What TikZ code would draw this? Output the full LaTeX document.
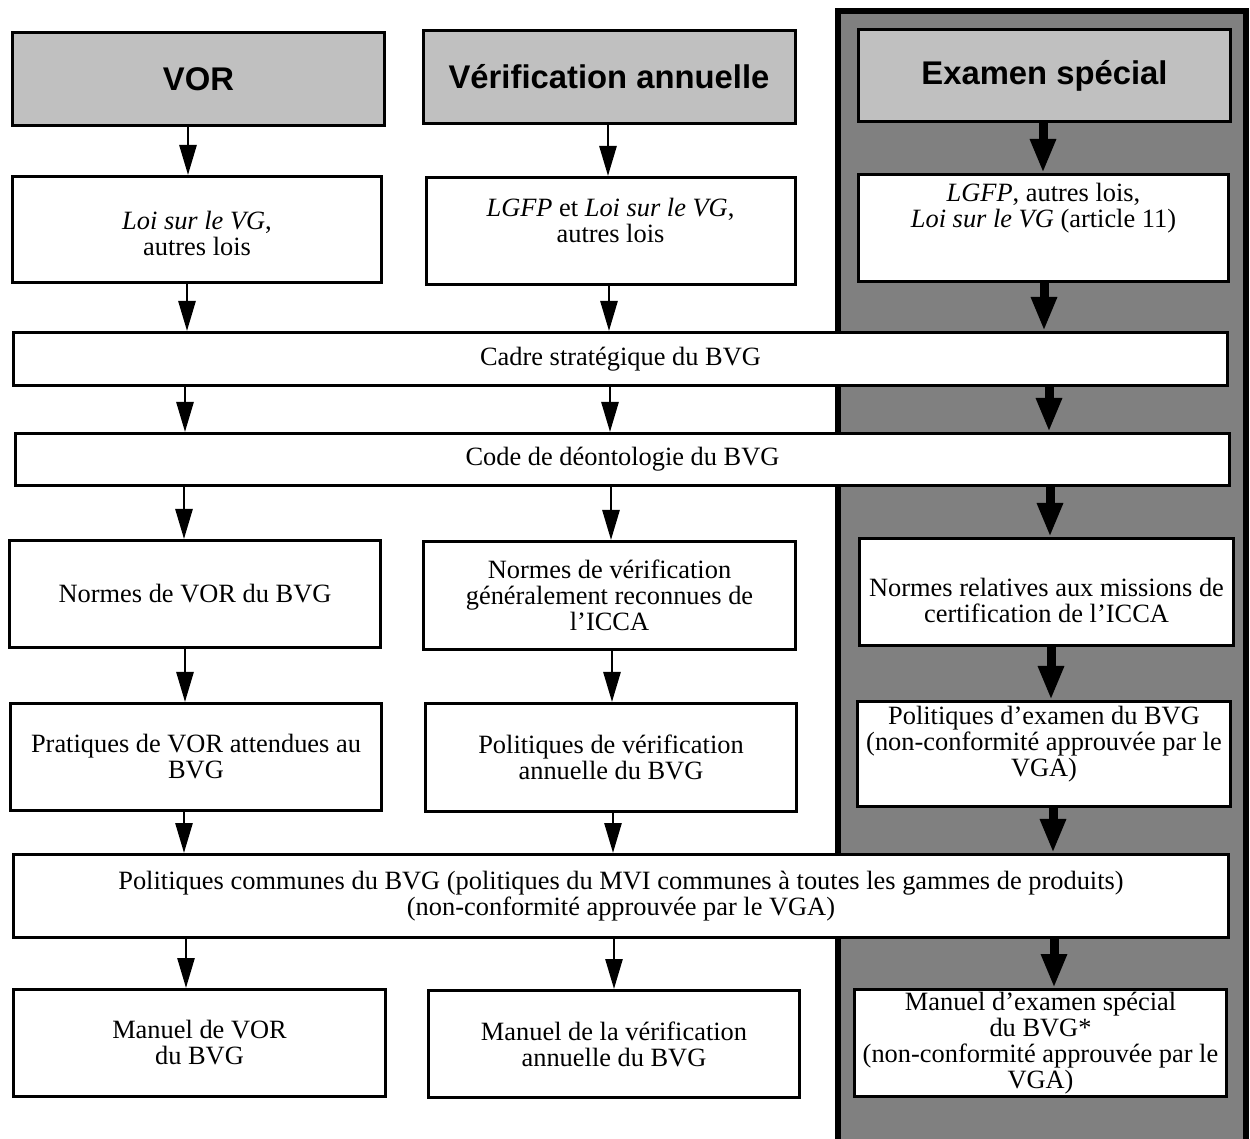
\documentclass[tikz,border=0pt]{standalone}
\usepackage{fontspec}
\setmainfont{Liberation Serif}
\newfontfamily\hdrfont{Liberation Sans}
\usetikzlibrary{arrows.meta}
\definecolor{hdrgray}{HTML}{C0C0C0}
\definecolor{panelgray}{HTML}{808080}
\begin{document}
\begin{tikzpicture}[x=0.5pt,y=-0.5pt,
  box/.style={draw, line width=1.5pt, fill=white, inner xsep=1pt, inner ysep=1pt, align=center,
    font=\fontsize{13.2}{13}\selectfont},
  hdr/.style={draw, line width=1.5pt, fill=hdrgray, inner sep=1.5pt,
    font=\hdrfont\bfseries\fontsize{16.4}{19}\selectfont},
  arrl/.style={line width=1.35pt, -{Triangle[length=15pt,width=8.5pt]}},
  arrr/.style={line width=4.5pt, -{Triangle[length=17pt,width=12pt]}}
]
\useasboundingbox (0,0) rectangle (1250,1139);
% right panel
\fill[panelgray] (838,11.5) rectangle (1246,1139);
\draw[line width=3pt] (838,1150) -- (838,11.5) -- (1246,11.5) -- (1246,1150);

% headers
\node[hdr, minimum width=186pt, minimum height=46.5pt] (h1) at (198.5,79) {VOR};
\node[hdr, minimum width=186pt, minimum height=46.5pt] (h2) at (609,77) {Vérification annuelle};
\node[hdr, minimum width=186pt, minimum height=46pt] (h3) at (1044.5,75.5) {Examen spécial};

% laws
\node[box, minimum width=184.5pt, minimum height=53pt] (law1) at (197,229.5)
  {\mbox{}\\[0.5pt]\textit{Loi sur le VG},\\ autres lois};
\node[box, minimum width=184.5pt, minimum height=53.5pt] (law2) at (610.5,231)
  {\textit{LGFP} et \textit{Loi sur le VG},\\ autres lois\\[-2pt]\mbox{}};
\node[box, minimum width=185pt, minimum height=53.5pt] (law3) at (1043.5,228)
  {\textit{LGFP}, autres lois,\\ \textit{Loi sur le VG} (article 11)\\[10pt]\mbox{}};

% wide boxes
\node[box, minimum width=607pt, minimum height=26.5pt] (cadre) at (620.5,359)
  {Cadre stratégique du BVG};
\node[box, minimum width=607pt, minimum height=26pt] (code) at (622.5,459.5)
  {Code de déontologie du BVG};

% standards
\node[box, minimum width=185.5pt, minimum height=53.5pt] (nor1) at (195,594)
  {Normes de VOR du BVG};
\node[box, minimum width=186pt, minimum height=54pt] (nor2) at (609.5,595.5)
  {Normes de vérification\\ généralement reconnues de\\ l’ICCA};
\node[box, minimum width=187pt, minimum height=53.5pt] (nor3) at (1046.5,592)
  {\mbox{}\\[4.5pt]Normes relatives aux missions de\\ certification de l’ICCA};

% policies
\node[box, minimum width=185.5pt, minimum height=53.5pt] (pol1) at (196,757)
  {Pratiques de VOR attendues au\\ BVG};
\node[box, minimum width=185.5pt, minimum height=54pt] (pol2) at (611,757.5)
  {Politiques de vérification\\ annuelle du BVG};
\node[box, minimum width=186.5pt, minimum height=52.5pt] (pol3) at (1044,754)
  {Politiques d’examen du BVG\\ (non-conformité approuvée par le\\ VGA)\\[0pt]\mbox{}};

% common policies
\node[box, minimum width=607.5pt, minimum height=41.5pt] (com) at (621,896)
  {Politiques communes du BVG (politiques du MVI communes à toutes les gammes de produits)\\
   (non-conformité approuvée par le VGA)};

% manuals
\node[box, minimum width=186pt, minimum height=53.5pt] (man1) at (199.5,1043)
  {Manuel de VOR\\ du BVG};
\node[box, minimum width=185.5pt, minimum height=53.5pt] (man2) at (614,1044)
  {Manuel de la vérification\\ annuelle du BVG};
\node[box, minimum width=186pt, minimum height=53.5pt, inner ysep=0pt] (man3) at (1040.5,1043)
  {Manuel d’examen spécial\\ du BVG*\\ (non-conformité approuvée par le\\ VGA)};

% arrow columns
\coordinate (a1) at (188,0); \coordinate (a2) at (187,0); \coordinate (a3) at (185,0);
\coordinate (a4) at (184,0); \coordinate (a5) at (185,0); \coordinate (a6) at (184,0);
\coordinate (a7) at (186,0);
\coordinate (b1) at (608,0); \coordinate (b2) at (609,0); \coordinate (b3) at (610,0);
\coordinate (b4) at (611,0); \coordinate (b5) at (612,0); \coordinate (b6) at (613,0);
\coordinate (b7) at (614,0);
\coordinate (c1) at (1043,0); \coordinate (c2) at (1044,0); \coordinate (c3) at (1049,0);
\coordinate (c4) at (1050,0); \coordinate (c5) at (1051,0); \coordinate (c6) at (1053,0);
\coordinate (c7) at (1054,0);

\draw[arrl] (h1.south -| a1) -- (law1.north -| a1);
\draw[arrl] (law1.south -| a2) -- (cadre.north -| a2);
\draw[arrl] (cadre.south -| a3) -- (code.north -| a3);
\draw[arrl] (code.south -| a4) -- (nor1.north -| a4);
\draw[arrl] (nor1.south -| a5) -- (pol1.north -| a5);
\draw[arrl] (pol1.south -| a6) -- (com.north -| a6);
\draw[arrl] (com.south -| a7) -- (man1.north -| a7);

\draw[arrl] (h2.south -| b1) -- (law2.north -| b1);
\draw[arrl] (law2.south -| b2) -- (cadre.north -| b2);
\draw[arrl] (cadre.south -| b3) -- (code.north -| b3);
\draw[arrl] (code.south -| b4) -- (nor2.north -| b4);
\draw[arrl] (nor2.south -| b5) -- (pol2.north -| b5);
\draw[arrl] (pol2.south -| b6) -- (com.north -| b6);
\draw[arrl] (com.south -| b7) -- (man2.north -| b7);

\draw[arrr] (h3.south -| c1) -- (law3.north -| c1);
\draw[arrr] (law3.south -| c2) -- (cadre.north -| c2);
\draw[arrr] (cadre.south -| c3) -- (code.north -| c3);
\draw[arrr] (code.south -| c4) -- (nor3.north -| c4);
\draw[arrr] (nor3.south -| c5) -- (pol3.north -| c5);
\draw[arrr] (pol3.south -| c6) -- (com.north -| c6);
\draw[arrr] (com.south -| c7) -- (man3.north -| c7);
\end{tikzpicture}
\end{document}
